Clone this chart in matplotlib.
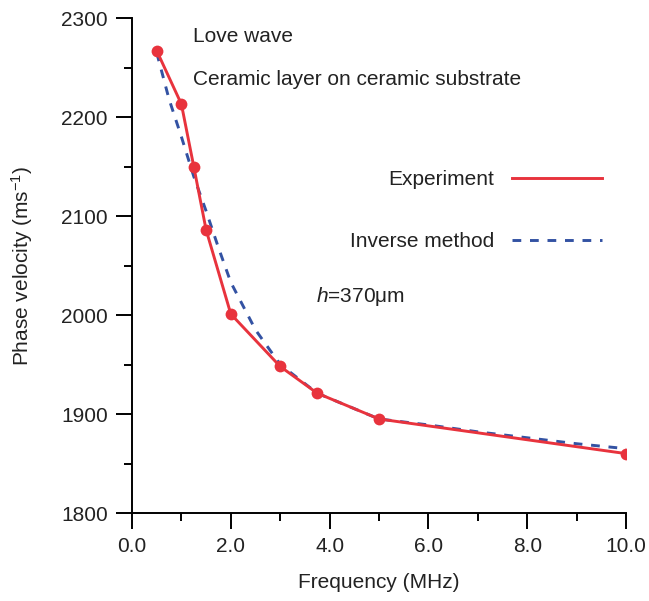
import matplotlib
matplotlib.use('Agg')
import matplotlib.pyplot as plt
from matplotlib.lines import Line2D
from matplotlib.ticker import MultipleLocator, FormatStrFormatter

plt.rcParams['font.family'] = ['Liberation Sans', 'DejaVu Sans']
plt.rcParams['mathtext.fontset'] = 'custom'
plt.rcParams['mathtext.rm'] = 'Liberation Sans'
plt.rcParams['mathtext.it'] = 'Liberation Sans:italic'
plt.rcParams['mathtext.default'] = 'regular'

# experiment (measured points)
freq_exp = [0.5, 1.0, 1.25, 1.5, 2.0, 3.0, 3.75, 5.0, 10.0]
vel_exp = [2267, 2213, 2150, 2086, 2001, 1948, 1921, 1895, 1860]

# inverse method curve
freq_inv = [0.5, 0.75, 1.0, 1.25, 1.5, 1.75, 2.0, 2.5, 3.0, 3.75, 5.0,
            6.0, 7.0, 8.0, 9.0, 10.0]
vel_inv = [2265, 2218, 2180, 2140, 2105, 2068, 2033, 1985, 1950, 1921, 1895,
           1889, 1882, 1876, 1870, 1865]

RED = '#e8333d'
BLUE = '#3352a3'
TXT = '#222222'
FS = 15

fig = plt.figure(figsize=(6.49, 6.01), dpi=100)
ax = fig.add_axes([0.2034, 0.1464, 0.7612, 0.8236])

ax.plot(freq_inv, vel_inv, color=BLUE, lw=2.1, dashes=(3.0, 3.0))
ax.plot(freq_exp, vel_exp, color=RED, lw=2.1, marker='o', ms=8.5,
        markeredgewidth=0, zorder=3)

ax.set_xlim(0, 10)
ax.set_ylim(1800, 2300)
ax.xaxis.set_major_locator(MultipleLocator(2))
ax.xaxis.set_minor_locator(MultipleLocator(1))
ax.yaxis.set_major_locator(MultipleLocator(100))
ax.yaxis.set_minor_locator(MultipleLocator(50))
ax.xaxis.set_major_formatter(FormatStrFormatter('%.1f'))

for s in ['top', 'right']:
    ax.spines[s].set_visible(False)
for s in ['left', 'bottom']:
    ax.spines[s].set_linewidth(1.4)
ax.tick_params(which='major', direction='out', length=11.5, width=1.4,
               labelsize=FS, labelcolor=TXT, pad=6)
ax.tick_params(which='minor', direction='out', length=6, width=1.4)

ax.set_xlabel('Frequency (MHz)', fontsize=FS, color=TXT, labelpad=12)
ax.set_ylabel('Phase velocity (ms$^{-1}$)', fontsize=FS, color=TXT,
              labelpad=19)

# annotations
ax.text(1.23, 2281, 'Love wave', fontsize=FS, color=TXT, va='center')
ax.text(1.23, 2238, 'Ceramic layer on ceramic substrate', fontsize=FS,
        color=TXT, va='center')
ax.text(3.72, 2019, '$\\mathit{h}$=370\u03bcm', fontsize=FS, color=TXT,
        va='center')

handles = [Line2D([], [], color=RED, lw=2.1),
           Line2D([], [], color=BLUE, lw=2.1, dashes=(3.0, 3.0))]
ax.legend(handles, ['Experiment', 'Inverse method'], loc='upper right',
          bbox_to_anchor=(0.951, 0.692), frameon=False, fontsize=FS,
          markerfirst=False, handlelength=4.3, handletextpad=0.85,
          labelspacing=2.05, borderpad=0, borderaxespad=0,
          labelcolor=TXT)

fig.savefig('out.png', dpi=100)
